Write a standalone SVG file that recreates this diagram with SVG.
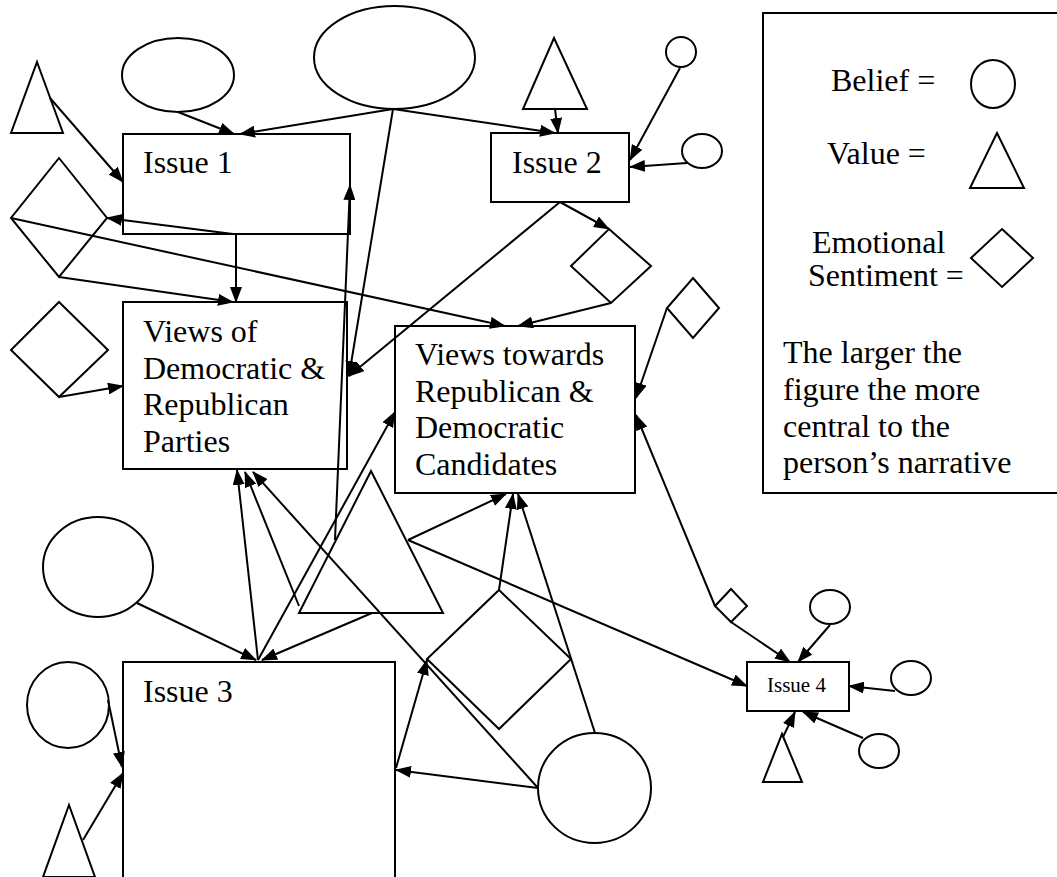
<svg xmlns="http://www.w3.org/2000/svg" width="1057" height="877" viewBox="0 0 1057 877">
<style>
.s{fill:none;stroke:#000;stroke-width:2}
.c{fill:none;stroke:#000;stroke-width:2;marker-end:url(#ah)}
.t{font-family:"Liberation Serif","Times New Roman",serif;font-size:32px;fill:#000}
.sm{font-size:21px}
</style>
<defs>
<marker id="ah" markerUnits="userSpaceOnUse" markerWidth="16" markerHeight="12" refX="15" refY="6" orient="auto">
<path d="M0,0 L16,6 L0,12 Z" fill="#000"/>
</marker>
</defs>
<rect width="1057" height="877" fill="#fff"/>
<g id="issue1"><rect class="s" x="123" y="134" width="227" height="100"/><text class="t" x="143" y="173">Issue 1</text></g>
<g id="issue2"><rect class="s" x="491" y="133" width="138" height="69"/><text class="t" x="512" y="173">Issue 2</text></g>
<g id="views-parties"><rect class="s" x="123" y="302" width="224" height="167"/><text class="t" x="143" y="342">Views of</text><text class="t" x="143" y="379">Democratic &amp;</text><text class="t" x="143" y="415">Republican</text><text class="t" x="143" y="452">Parties</text></g>
<g id="views-candidates"><rect class="s" x="395" y="326" width="240" height="167"/><text class="t" x="415" y="365">Views towards</text><text class="t" x="415" y="402">Republican &amp;</text><text class="t" x="415" y="438">Democratic</text><text class="t" x="415" y="475">Candidates</text></g>
<g id="issue3"><rect class="s" x="123" y="662" width="272" height="216"/><text class="t" x="143" y="702">Issue 3</text></g>
<g id="issue4"><rect class="s" x="747" y="662" width="102" height="49"/><text class="t sm" x="767" y="692">Issue 4</text></g>
<g id="legend"><rect class="s" x="763" y="13" width="310" height="480"/>
<text class="t" x="831" y="91">Belief =</text><ellipse class="s" cx="993" cy="84" rx="22" ry="24"/>
<text class="t" x="827" y="164">Value =</text><polygon class="s" points="997,133 1024,188 970,188"/>
<text class="t" x="812" y="253">Emotional</text><text class="t" x="808" y="286">Sentiment =</text><polygon class="s" points="1002,229 1033,258 1002,287 971,258"/>
<text class="t" x="783" y="363">The larger the</text><text class="t" x="783" y="400">figure the more</text><text class="t" x="783" y="437">central to the</text><text class="t" x="783" y="473">person’s narrative</text></g>
<g id="value-tl"><polygon class="s" points="37,62 63,133 11,133"/></g>
<g id="belief-tl"><ellipse class="s" cx="178" cy="75" rx="56" ry="37"/></g>
<g id="belief-top"><ellipse class="s" cx="394.5" cy="57.5" rx="80.5" ry="51.5"/></g>
<g id="emotion-tl"><polygon class="s" points="59,158 107,218 59,277 11,218"/></g>
<g id="emotion-l2"><polygon class="s" points="59,302 108,350 59,397 11,350"/></g>
<g id="value-i2"><polygon class="s" points="554,38 587,109 523,109"/></g>
<g id="belief-i2a"><circle class="s" cx="681" cy="52" r="15"/></g>
<g id="belief-i2b"><ellipse class="s" cx="702" cy="151" rx="20" ry="17"/></g>
<g id="emotion-i2"><polygon class="s" points="609,229 651,266 611,303 571,266"/></g>
<g id="emotion-r"><polygon class="s" points="693,278 719,308 693,338 667,308"/></g>
<g id="value-big"><polygon class="s" points="371,471 443,613 299,613"/></g>
<g id="emotion-mid"><polygon class="s" points="499,590 571,659 499,729 427,659"/></g>
<g id="belief-big"><ellipse class="s" cx="594.5" cy="788" rx="56.5" ry="55"/></g>
<g id="emotion-i4"><polygon class="s" points="731,589 747,606 731,622 715,606"/></g>
<g id="belief-i4a"><ellipse class="s" cx="830" cy="607" rx="20" ry="17"/></g>
<g id="belief-i4b"><ellipse class="s" cx="911" cy="678" rx="20" ry="17"/></g>
<g id="belief-i4c"><ellipse class="s" cx="879" cy="751" rx="20" ry="17"/></g>
<g id="value-i4"><polygon class="s" points="782,734 802,782 763,782"/></g>
<g id="belief-l"><ellipse class="s" cx="98" cy="567" rx="55" ry="50"/></g>
<g id="belief-l2"><ellipse class="s" cx="68" cy="705" rx="41" ry="43"/></g>
<g id="value-bl"><polygon class="s" points="69,805 95,877 43,877"/></g>
<g id="connectors">
<line class="c" x1="178" y1="112" x2="234" y2="134"/>
<line class="c" x1="393" y1="109" x2="240" y2="134"/>
<line class="c" x1="393" y1="109" x2="555" y2="133"/>
<line class="c" x1="393" y1="109" x2="349" y2="376"/>
<line class="c" x1="50" y1="98" x2="123" y2="182"/>
<line class="c" x1="233" y1="234" x2="107" y2="218"/>
<line class="c" x1="236" y1="234" x2="236" y2="302"/>
<line class="c" x1="59" y1="277" x2="233" y2="302"/>
<line class="c" x1="11" y1="218" x2="505" y2="326"/>
<line class="c" x1="59" y1="397" x2="123" y2="386"/>
<line class="c" x1="335" y1="540" x2="350" y2="185"/>
<line class="c" x1="555" y1="109" x2="558" y2="133"/>
<line class="c" x1="680" y1="68" x2="630" y2="160"/>
<line class="c" x1="687" y1="163" x2="630" y2="167"/>
<line class="c" x1="560" y1="202" x2="609" y2="229"/>
<line class="c" x1="560" y1="202" x2="349" y2="376"/>
<line class="c" x1="611" y1="303" x2="518" y2="326"/>
<line class="c" x1="667" y1="308" x2="636" y2="398"/>
<line class="c" x1="715" y1="606" x2="636" y2="415"/>
<line class="c" x1="731" y1="622" x2="790" y2="662"/>
<line class="c" x1="830" y1="625" x2="798" y2="662"/>
<line class="c" x1="895" y1="691" x2="849" y2="686"/>
<line class="c" x1="863" y1="738" x2="803" y2="712"/>
<line class="c" x1="783" y1="737" x2="795" y2="712"/>
<line class="c" x1="408" y1="540" x2="747" y2="686"/>
<line class="c" x1="408" y1="540" x2="506" y2="494"/>
<line class="c" x1="499" y1="590" x2="513" y2="494"/>
<line class="c" x1="595" y1="733" x2="518" y2="494"/>
<line class="c" x1="538" y1="788" x2="253" y2="472"/>
<line class="c" x1="538" y1="788" x2="396" y2="770"/>
<line class="c" x1="396" y1="768" x2="427" y2="660"/>
<line class="c" x1="258" y1="660" x2="237" y2="470"/>
<line class="c" x1="258" y1="660" x2="395" y2="412"/>
<line class="c" x1="299" y1="606" x2="245" y2="472"/>
<line class="c" x1="137" y1="603" x2="256" y2="660"/>
<line class="c" x1="372" y1="613" x2="262" y2="660"/>
<line class="c" x1="108" y1="700" x2="122" y2="767"/>
<line class="c" x1="83" y1="840" x2="123" y2="773"/>
</g>
</svg>
